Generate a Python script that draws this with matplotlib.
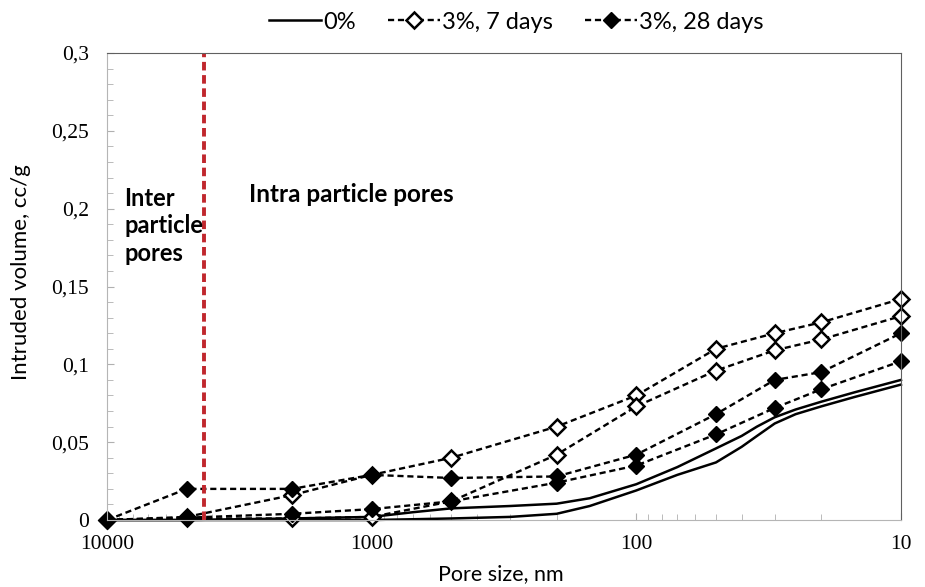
import numpy as np
import matplotlib.pyplot as plt
from matplotlib.ticker import FixedLocator, LogLocator, NullFormatter, MultipleLocator

# Pore sizes (nm) for the porosimetry points
pores = [10000, 5000, 2000, 1000, 500, 200, 100, 50, 30, 20, 10]

# 0 % binder, two curves read with more points
pores_0 = [10000, 5000, 2000, 1000, 700, 500, 300, 200, 150, 100, 70, 50,
           40, 35, 30, 25, 20, 15, 10]
vol_0_a = [0, 0, 0.001, 0.002, 0.005, 0.0075, 0.009, 0.0105, 0.014, 0.023,
           0.034, 0.046, 0.054, 0.060, 0.066, 0.071, 0.076, 0.082, 0.090]
vol_0_b = [0, 0, 0, 0, 0.0005, 0.001, 0.002, 0.004, 0.009, 0.019,
           0.029, 0.037, 0.047, 0.054, 0.062, 0.068, 0.073, 0.079, 0.087]

# 3 %, 7 days
vol_7_a = [0, 0.002, 0.016, 0.029, 0.040, 0.060, 0.080, 0.110, 0.120, 0.127, 0.142]
vol_7_b = [0, 0.001, 0.001, 0.002, 0.012, 0.042, 0.073, 0.096, 0.109, 0.116, 0.131]

# 3 %, 28 days
vol_28_a = [0, 0.020, 0.020, 0.029, 0.027, 0.028, 0.042, 0.068, 0.090, 0.095, 0.120]
vol_28_b = [0, 0.0015, 0.004, 0.007, 0.012, 0.024, 0.035, 0.055, 0.072, 0.084, 0.102]

# inter / intra particle boundary (nm)
boundary = 4300

sans = ["Lato", "DejaVu Sans"]
serif = ["Liberation Serif", "DejaVu Serif"]

fig = plt.figure(figsize=(9.25, 5.87), dpi=100)
ax = fig.add_axes([0.1157, 0.1141, 0.8583, 0.7956])

dash = (0, (2.6, 1.6))

ax.plot(pores_0, vol_0_a, color="black", lw=1.8, label="0%")
ax.plot(pores_0, vol_0_b, color="black", lw=1.8)

ax.plot(pores, vol_7_a, color="black", lw=1.7, ls=dash, marker="D",
        ms=8.5, mfc="white", mec="black", mew=1.8, label="3%, 7 days")
ax.plot(pores, vol_7_b, color="black", lw=1.7, ls=dash, marker="D",
        ms=8.5, mfc="white", mec="black", mew=1.8)

ax.plot(pores, vol_28_a, color="black", lw=1.7, ls=dash, marker="D",
        ms=8.5, mfc="black", mec="black", label="3%, 28 days")
ax.plot(pores, vol_28_b, color="black", lw=1.7, ls=dash, marker="D",
        ms=8.5, mfc="black", mec="black")

ax.axvline(boundary, color="#c0272d", lw=2.8, ls=(0, (2.2, 1.2)))

ax.set_xscale("log")
ax.set_xlim(10000, 10)
ax.set_ylim(0, 0.3)
for ln in ax.lines:
    ln.set_clip_on(False)

ax.xaxis.set_major_locator(FixedLocator([10000, 1000, 100, 10]))
ax.xaxis.set_minor_locator(LogLocator(base=10, subs=np.arange(2, 10)))
ax.xaxis.set_minor_formatter(NullFormatter())
ax.set_xticklabels(["10000", "1000", "100", "10"], fontfamily=serif, fontsize=15.5)

yt = [0, 0.05, 0.1, 0.15, 0.2, 0.25, 0.3]
ax.set_yticks(yt)
ax.set_yticklabels(["0", "0,05", "0,1", "0,15", "0,2", "0,25", "0,3"],
                   fontfamily=serif, fontsize=15.5)
ax.yaxis.set_minor_locator(MultipleLocator(0.01))

ax.tick_params(axis="both", which="both", direction="in", color="#b0b0b0")
ax.tick_params(axis="both", which="major", length=5)
ax.tick_params(axis="both", which="minor", length=4)
ax.tick_params(axis="x", which="major", pad=11)
ax.tick_params(axis="y", which="major", pad=13)
ax.tick_params(axis="y", which="both", right=False)

for side in ["left", "bottom"]:
    ax.spines[side].set_color("#b5b5b5")
for side in ["top", "right"]:
    ax.spines[side].set_color("#606060")

ax.set_xlabel("Pore size, nm", fontfamily=sans, fontsize=15.5)
ax.set_ylabel("Intruded volume, cc/g", fontfamily=sans, fontsize=16)
ax.xaxis.set_label_coords(0.496, -0.094)
ax.yaxis.set_label_coords(-0.096, 0.531)

ax.text(8600, 0.189, "Inter\nparticle\npores", fontfamily=sans, fontsize=17,
        fontweight="bold", va="center", ha="left", linespacing=1.25)
ax.text(2900, 0.209, "Intra particle pores", fontfamily=sans, fontsize=17.5,
        fontweight="bold", va="center", ha="left")

ax.legend(loc="center", bbox_to_anchor=(0.558, 0.9625),
          bbox_transform=fig.transFigure, ncol=3, frameon=False,
          prop={"family": sans, "size": 17}, handlelength=2.2,
          columnspacing=1.35, handletextpad=0.1, borderpad=0.1)

fig.savefig("out.png", dpi=100)
